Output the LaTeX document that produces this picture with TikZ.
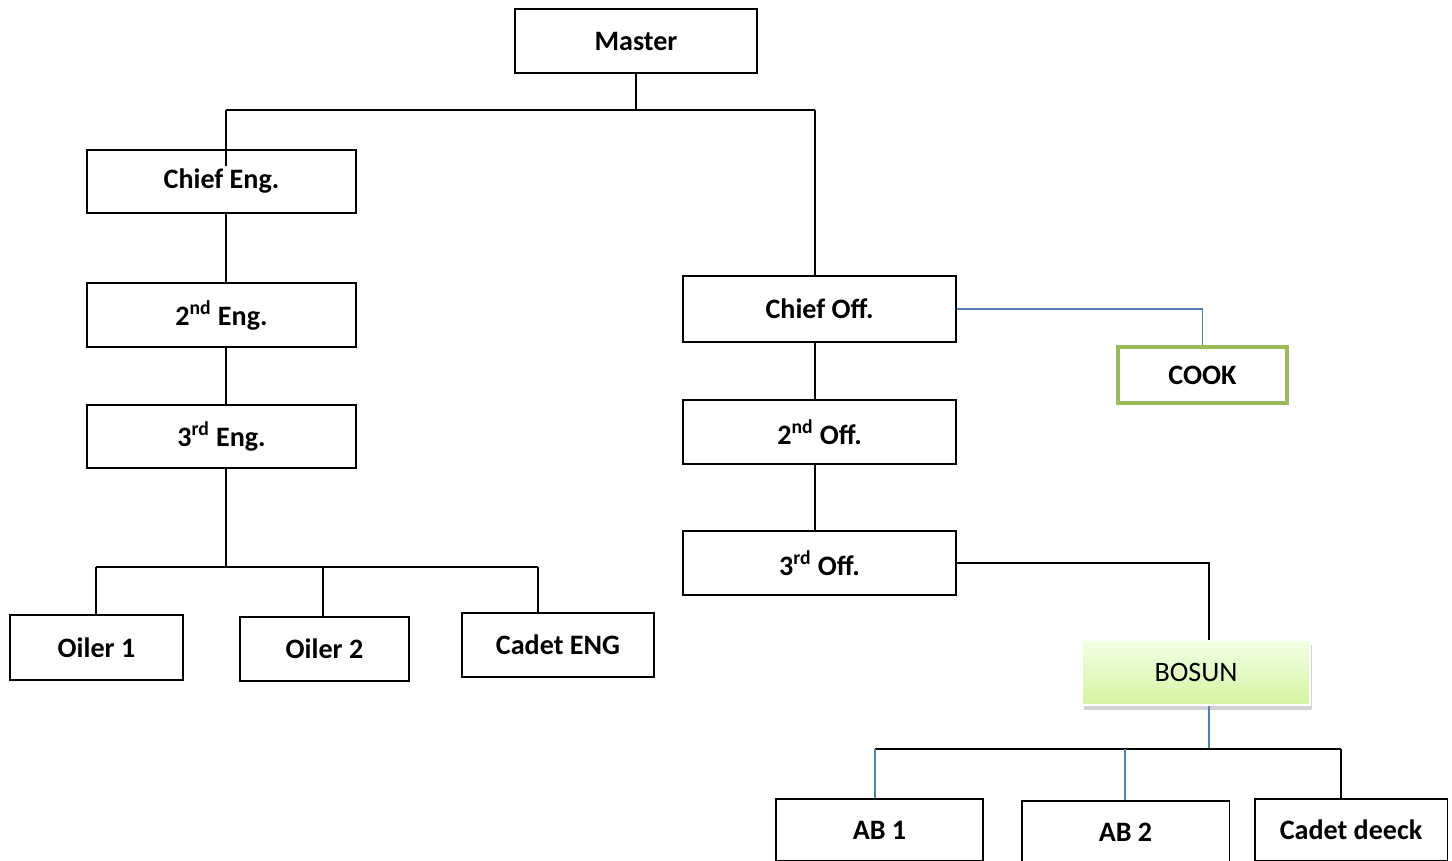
\documentclass[tikz,border=0pt]{standalone}
\usepackage{fontspec}
\setmainfont{Carlito}
\usetikzlibrary{shadows}
\definecolor{linkblue}{HTML}{4F81BD}
\definecolor{cookgreen}{HTML}{9BBB59}
\definecolor{bosuntop}{HTML}{F2FFE4}
\definecolor{bosunbot}{HTML}{D4F5A2}
\begin{document}
\begin{tikzpicture}[x=0.02cm,y=-0.02cm,
    box/.style={draw,line width=1.1pt,font=\bfseries\fontsize{16}{19}\selectfont,minimum height=1.28cm,inner sep=0pt},
    cookbox/.style={box,draw=cookgreen,line width=2.4pt,minimum height=1.12cm},
    bosunbox/.style={minimum height=1.3cm,minimum width=4.56cm,font=\fontsize{16}{19}\selectfont,
      top color=bosuntop,bottom color=bosunbot,draw=white,line width=0.6pt,
      drop shadow={opacity=0.35,shadow xshift=0.03cm,shadow yshift=-0.09cm}},
    link/.style={line width=1.1pt},
    bluelink/.style={draw=linkblue,line width=0.9pt}]
  \clip (0,0) rectangle (1452,861);
  \fill[white] (0,0) rectangle (1452,861);
  % boxes
  \node[box,minimum width=4.84cm] (master) at (636,41) {Master};
  \node[box,minimum width=5.38cm,minimum height=1.26cm] (ce) at (221.5,181.5) {Chief Eng.};
  \node[box,minimum width=5.38cm] (e2) at (221.5,315) {2\textsuperscript{nd} Eng.};
  \node[box,minimum width=5.38cm,minimum height=1.26cm] (e3) at (221.5,436.5) {3\textsuperscript{rd} Eng.};
  \node[box,minimum width=3.46cm,minimum height=1.3cm] (oil1) at (96.5,647.5) {Oiler 1};
  \node[box,minimum width=3.38cm] (oil2) at (324.5,649) {Oiler 2};
  \node[box,minimum width=3.84cm] (cadeteng) at (558,645) {Cadet ENG};
  \node[box,minimum width=5.46cm,minimum height=1.32cm] (co) at (819.5,309) {Chief Off.};
  \node[cookbox,minimum width=3.38cm] (cook) at (1202.5,375) {COOK};
  \node[box,minimum width=5.46cm] (o2) at (819.5,432) {2\textsuperscript{nd} Off.};
  \node[box,minimum width=5.46cm] (o3) at (819.5,563) {3\textsuperscript{rd} Off.};
  \node[bosunbox] (bosun) at (1196,672.5) {BOSUN};
  \node[box,minimum width=4.14cm,minimum height=1.24cm] (ab1) at (879.5,830) {AB 1};
  \node[box,minimum width=4.16cm,minimum height=1.24cm] (ab2) at (1125.5,832) {AB 2};
  \node[box,minimum width=3.86cm,minimum height=1.24cm] (cadetdeck) at (1351,830) {Cadet deeck};
  % bus points
  \coordinate (topM) at (636,110);
  \coordinate (topL) at (226,110);
  \coordinate (topR) at (815,110);
  \coordinate (ceIn) at (226,166);
  \coordinate (engM) at (226,567);
  \coordinate (engL) at (96,567);
  \coordinate (engC) at (323,567);
  \coordinate (engR) at (538,567);
  \coordinate (bosunIn) at (1209,640);
  \coordinate (deckM) at (1209,749);
  \coordinate (deckL) at (875,749);
  \coordinate (deckC) at (1125,749);
  \coordinate (deckR) at (1341,749);
  % connectors
  \draw[link] (master.south) -- (topM);
  \draw[link] (topL) -- (topR);
  \draw[link] (topL) -- (ceIn);
  \draw[link] (topR) -- (topR |- co.north);
  \draw[link] (ce.south -| topL) -- (e2.north -| topL);
  \draw[link] (e2.south -| topL) -- (e3.north -| topL);
  \draw[link] (e3.south -| engM) -- (engM);
  \draw[link] (engL) -- (engR);
  \draw[link] (engL) -- (engL |- oil1.north);
  \draw[link] (engC) -- (engC |- oil2.north);
  \draw[link] (engR) -- (engR |- cadeteng.north);
  \draw[bluelink] (co.east) -| (cook.north);
  \draw[link] (co.south -| topR) -- (o2.north -| topR);
  \draw[link] (o2.south -| topR) -- (o3.north -| topR);
  \draw[link] (o3.east) -| (bosunIn);
  \draw[bluelink] (bosun.south -| deckM) -- (deckM);
  \draw[link] (deckL) -- (deckR);
  \draw[bluelink] (deckL) -- (deckL |- ab1.north);
  \draw[bluelink] (deckC) -- (deckC |- ab2.north);
  \draw[link] (deckR) -- (deckR |- cadetdeck.north);
\end{tikzpicture}
\end{document}
